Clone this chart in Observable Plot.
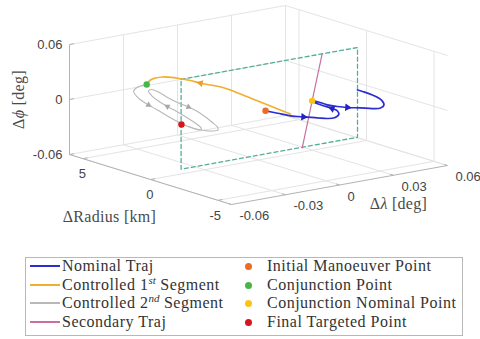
<!DOCTYPE html>
<html><head><meta charset="utf-8">
<script src="https://cdn.jsdelivr.net/npm/d3@7"></script>
<script src="https://cdn.jsdelivr.net/npm/@observablehq/plot@0.6"></script>
<style>
body{margin:0;background:#fff;}
#wrap{position:relative;width:480px;height:339px;overflow:hidden;background:#fff;}
#chart{position:absolute;left:0;top:0;}
#legend{position:absolute;left:25px;top:257px;width:436px;height:77px;border:1px solid #b8b8b8;background:#fff;font-family:"Liberation Serif","Times New Roman",Times,serif;font-size:16px;letter-spacing:0.5px;color:#333;}
.row{position:absolute;height:18px;line-height:18px;white-space:nowrap;font-family:"Liberation Serif","Times New Roman",Times,serif;}
.ln{position:absolute;width:30px;height:0;}
.dt{position:absolute;width:7px;height:7px;border-radius:50%;}
.sp{font-size:11px;font-style:italic;position:relative;top:-6px;letter-spacing:0;}
</style></head><body>
<div id="wrap"><div id="chart"></div><div id="legend"></div></div>
<script>
// ---- axes ----
const lonLim = [-0.06, 0.06];
const radLim = [-6, 6];
const latLim = [-0.06, 0.06];
const lonTicks = [-0.06, -0.03, 0, 0.03, 0.06];
const radTicks = [-5, 0, 5];
const latTicks = [-0.06, 0, 0.06];
const lonTickLabels = ["-0.06", "-0.03", "0", "0.03", "0.06"];
const radTickLabels = ["-5", "0", "5"];
const latTickLabels = ["-0.06", "0", "0.06"];
const lonLabel = "Δλ [deg]";
const radLabel = "ΔRadius [km]";
const latLabel = "Δϕ [deg]";

// ---- nominal trajectory (Δλ deg, ΔR km, Δϕ deg) ----
const nominalLon = [-0.0186,-0.0119,-0.0047,0.0025,0.0101,0.0158,0.0197,0.0221,0.0214,0.0184,0.0131,0.0092,0.0073,0.0108,0.0158,0.0214,0.0269,0.0342,0.0408,0.0453,0.0472,0.0458,0.0408,0.0353,0.0325];
const nominalRad = [-3,-3,-3,-3,-3,-3,-3,-3,-3,-3,-3,-3,-3,-3,-3,-3,-3,-3,-3,-3,-3,-3,-3,-3,-3];
const nominalLat = [0.0139,0.0089,0.0035,-0.0003,-0.0039,-0.0067,-0.0073,-0.0046,-0.0005,0.0033,0.0085,0.0126,0.0156,0.0131,0.0082,0.0044,0.0014,-0.0017,-0.0047,-0.0057,-0.0031,0.0028,0.0101,0.0159,0.0185];
const nominalArrows = [3, 9, 16];

// ---- controlled 1st segment ----
const seg1Lon = [-0.0047,-0.0121,-0.0167,-0.0213,-0.0264,-0.0304,-0.0322,-0.0340,-0.0358,-0.0371,-0.0383,-0.0385,-0.0390,-0.0396];
const seg1Rad = [-3,-2.5,-2,-1.5,-1,-0.5,0,0.5,1,1.5,2,2.5,2.8,3];
const seg1Lat = [0.0055,0.0146,0.0205,0.0264,0.0325,0.0349,0.0352,0.0365,0.0367,0.0365,0.0351,0.0317,0.0284,0.0228];
const seg1Arrows = [6];

// ---- controlled 2nd segment ----
const seg2Lon = [-0.0396,-0.0431,-0.0458,-0.0469,-0.0453,-0.0425,-0.0386,-0.0336,-0.0286,-0.0236,-0.0186,-0.0136,-0.0103,-0.0092,-0.0119,-0.0169,-0.0225,-0.0281,-0.0331,-0.0369,-0.0386,-0.0369,-0.0331,-0.0275,-0.0219,-0.0164,-0.0114,-0.0069,-0.0031,-0.0003,0,-0.0031,-0.0075,-0.0131,-0.0169,-0.0203];
const seg2Rad = [3,3,3,3,3,3,3,3,3,3,3,3,3,3,3,3,3,3,3,3,3,3,3,3,3,3,3,3,3,3,3,3,3,3,3,3];
const seg2Lat = [0.0228,0.0224,0.0206,0.0177,0.0122,0.0063,0.0001,-0.0072,-0.0149,-0.0222,-0.0289,-0.0345,-0.0373,-0.0360,-0.0301,-0.0218,-0.0133,-0.0053,0.0024,0.0098,0.0153,0.0164,0.0123,0.0038,-0.0037,-0.0100,-0.0167,-0.0243,-0.0316,-0.0375,-0.0409,-0.0409,-0.0388,-0.0346,-0.0309,-0.0277];
const seg2Arrows = [6, 17, 25];

// ---- secondary trajectory ----
const secLon = [0.0173, 0.0073, -0.0027];
const secRad = [-2.4, -3, -3.6];
const secLat = [0.0600, 0.0156, -0.0294];

// ---- control box (dashed) ----
const boxLon = [-0.049, 0.049, 0.049, -0.049, -0.049];
const boxRad = [-0.8, -0.8, -0.8, -0.8, -0.8];
const boxLat = [0.049, 0.049, -0.049, -0.049, 0.049];

// ---- event points ----
const eventNames = ["Initial Manoeuver Point", "Conjunction Point", "Conjunction Nominal Point", "Final Targeted Point"];
const eventLon = [-0.0186, -0.0396, 0.0073, -0.0203];
const eventRad = [-3, 3, -3, 3];
const eventLat = [0.0139, 0.0228, 0.0156, -0.0277];
const eventColors = ["#ec6b26", "#46b649", "#fdc214", "#d8141c"];

// ---- series styling ----
const lineNames = ["Nominal Traj", "Controlled 1<span class='sp'>st</span> Segment", "Controlled 2<span class='sp'>nd</span> Segment", "Secondary Traj"];
const lineColors = ["#2d2dd4", "#f2ae2e", "#b8b8b8", "#c96fa0"];

// ---- projection (view of the axes box) ----
const W = 480, H = 250;
const O = [69, 154], VL = [216, -39], VR = [162, 50], VZ = 110;
function P(lon, rad, lat) {
  const a = (lon - lonLim[0]) / (lonLim[1] - lonLim[0]);
  const b = (radLim[1] - rad) / (radLim[1] - radLim[0]);
  const c = (lat - latLim[0]) / (latLim[1] - latLim[0]);
  return [O[0] + a * VL[0] + b * VR[0], O[1] + a * VL[1] + b * VR[1] - c * VZ];
}
const pts = (L, R, F) => L.map((l, i) => { const p = P(l, R[i], F[i]); return {x: p[0], y: p[1]}; });
const seg = (a, b) => { const p = P(...a), q = P(...b); return {x1: p[0], y1: p[1], x2: q[0], y2: q[1]}; };
function arrows(L, R, F, idx) {
  return idx.map(i => {
    const p = P(L[i], R[i], F[i]), p0 = P(L[i-1], R[i-1], F[i-1]), p1 = P(L[i+1], R[i+1], F[i+1]);
    return {x: p[0], y: p[1], a: Math.atan2(p1[0] - p0[0], -(p1[1] - p0[1])) * 180 / Math.PI};
  });
}

const [l0, l1] = lonLim, [r0, r1] = radLim, [f0, f1] = latLim;
const grid = [];
lonTicks.forEach(l => grid.push(seg([l, r1, f0], [l, r1, f1])));
latTicks.forEach(f => grid.push(seg([l0, r1, f], [l1, r1, f])));
radTicks.forEach(r => grid.push(seg([l1, r, f0], [l1, r, f1])));
latTicks.forEach(f => grid.push(seg([l1, r0, f], [l1, r1, f])));
lonTicks.forEach(l => grid.push(seg([l, r0, f0], [l, r1, f0])));
radTicks.forEach(r => grid.push(seg([l0, r, f0], [l1, r, f0])));

const axes = [seg([l0, r1, f0], [l0, r1, f1]), seg([l0, r1, f0], [l0, r0, f0]), seg([l0, r0, f0], [l1, r0, f0])];
const tickMarks = [
  ...latTicks.map(f => seg([l0, r1, f], [l0 + 0.0025, r1, f])),
  ...radTicks.map(r => seg([l0, r, f0], [l0 + 0.0025, r, f0])),
  ...lonTicks.map(l => seg([l, r0, f0], [l, r0 + 0.25, f0]))
];

const latTickData = latTicks.map((f, i) => { const p = P(l0, r1, f); return {x: p[0], y: p[1], t: latTickLabels[i]}; });
const radTickData = radTicks.map((r, i) => { const p = P(l0, r, f0); return {x: p[0], y: p[1], t: radTickLabels[i]}; });
const lonTickData = lonTicks.map((l, i) => { const p = P(l, r0, f0); return {x: p[0], y: p[1], t: lonTickLabels[i]}; });

const latMid = P(l0, r1, (f0 + f1) / 2), radMid = P(l0, (r0 + r1) / 2, f0), lonMid = P((l0 + l1) / 2, r0, f0);
const axisLabels = [
  {x: latMid[0], y: latMid[1], t: latLabel, dx: -51, dy: 0, rot: -90},
  {x: radMid[0], y: radMid[1], t: radLabel, dx: -41, dy: 37, rot: 0},
  {x: lonMid[0], y: lonMid[1], t: lonLabel, dx: 59, dy: 19, rot: 0}
];

const events = eventNames.map((n, i) => { const p = P(eventLon[i], eventRad[i], eventLat[i]); return {x: p[0], y: p[1], c: eventColors[i]}; });

const sans = "'Liberation Sans', Arial, 'DejaVu Sans', sans-serif";
const serif = "'Liberation Serif', 'Times New Roman', Times, serif";

const plot = Plot.plot({
  width: W, height: H,
  margin: 0,
  x: {domain: [0, W], range: [0, W], axis: null},
  y: {domain: [0, H], range: [0, H], axis: null},
  style: {fontFamily: sans, background: "transparent"},
  marks: [
    Plot.link(grid, {x1: "x1", y1: "y1", x2: "x2", y2: "y2", stroke: "#e4e4e4", strokeWidth: 1}),
    Plot.link(axes, {x1: "x1", y1: "y1", x2: "x2", y2: "y2", stroke: "#b3b3b3", strokeWidth: 1}),
    Plot.link(tickMarks, {x1: "x1", y1: "y1", x2: "x2", y2: "y2", stroke: "#b3b3b3", strokeWidth: 1}),
    Plot.text(latTickData, {x: "x", y: "y", text: "t", textAnchor: "end", dx: -7, fontSize: 13, fill: "#444"}),
    Plot.text(radTickData, {x: "x", y: "y", text: "t", textAnchor: "end", dx: 3, dy: 15, fontSize: 13, fill: "#444"}),
    Plot.text(lonTickData, {x: "x", y: "y", text: "t", textAnchor: "start", dx: 8, dy: 11.5, fontSize: 13, fill: "#444"}),
    ...axisLabels.map(d => Plot.text([d], {x: "x", y: "y", text: "t", dx: d.dx, dy: d.dy, rotate: d.rot, fontSize: 16, fontFamily: serif, fill: "#4a4a4a"})),
    Plot.line(pts(boxLon, boxRad, boxLat), {x: "x", y: "y", stroke: "#55ad9a", strokeWidth: 1.3, strokeDasharray: "4,3"}),
    Plot.line(pts(seg2Lon, seg2Rad, seg2Lat), {x: "x", y: "y", stroke: lineColors[2], strokeWidth: 1.1, curve: "catmull-rom"}),
    Plot.line(pts(seg1Lon, seg1Rad, seg1Lat), {x: "x", y: "y", stroke: lineColors[1], strokeWidth: 1.6, curve: "catmull-rom"}),
    Plot.line(pts(secLon, secRad, secLat), {x: "x", y: "y", stroke: lineColors[3], strokeWidth: 1.2}),
    Plot.line(pts(nominalLon, nominalRad, nominalLat), {x: "x", y: "y", stroke: lineColors[0], strokeWidth: 1.7, curve: "catmull-rom"}),
    Plot.dot(arrows(seg2Lon, seg2Rad, seg2Lat, seg2Arrows), {x: "x", y: "y", rotate: "a", symbol: "triangle", r: 2.3, fill: "#a8a8a8", stroke: "none"}),
    Plot.dot(arrows(seg1Lon, seg1Rad, seg1Lat, seg1Arrows), {x: "x", y: "y", rotate: "a", symbol: "triangle", r: 2.6, fill: "#ee9d1e", stroke: "none"}),
    Plot.dot(arrows(nominalLon, nominalRad, nominalLat, nominalArrows), {x: "x", y: "y", rotate: "a", symbol: "triangle", r: 2.8, fill: "#2222cc", stroke: "none"}),
    Plot.dot(events, {x: "x", y: "y", fill: "c", r: 3.2, stroke: "none"})
  ]
});

// italic Greek letters in axis labels, slight letter spacing for the serif labels
d3.select(plot).selectAll("text").each(function() {
  const t = this.textContent;
  if (/Δ/.test(t)) d3.select(this).attr("letter-spacing", "0.3px");
  const m = t.match(/[λϕ]/);
  if (!m || this.querySelector("tspan")) return;
  const i = t.indexOf(m[0]);
  const sel = d3.select(this);
  sel.text(null);
  sel.append("tspan").text(t.slice(0, i));
  sel.append("tspan").attr("font-style", "italic").text(m[0]);
  sel.append("tspan").text(t.slice(i + 1));
});
document.getElementById("chart").appendChild(plot);

// ---- legend ----
const leg = document.getElementById("legend");
const rowY = [8, 27, 45, 64];
lineNames.forEach((n, i) => {
  const ln = document.createElement("div");
  ln.className = "ln";
  ln.style.cssText = `left:4px;top:${rowY[i] - 1}px;border-top:2px solid ${lineColors[i]};`;
  leg.appendChild(ln);
  const tx = document.createElement("div");
  tx.className = "row";
  tx.style.cssText = `left:36px;top:${rowY[i] - 9}px;`;
  tx.innerHTML = n;
  leg.appendChild(tx);
});
eventNames.forEach((n, i) => {
  const dt = document.createElement("div");
  dt.className = "dt";
  dt.style.cssText = `left:${222 - 3.5}px;top:${rowY[i] - 3.5}px;background:${eventColors[i]};`;
  leg.appendChild(dt);
  const tx = document.createElement("div");
  tx.className = "row";
  tx.style.cssText = `left:241px;top:${rowY[i] - 9}px;`;
  tx.textContent = n;
  leg.appendChild(tx);
});
</script>
</body></html>
